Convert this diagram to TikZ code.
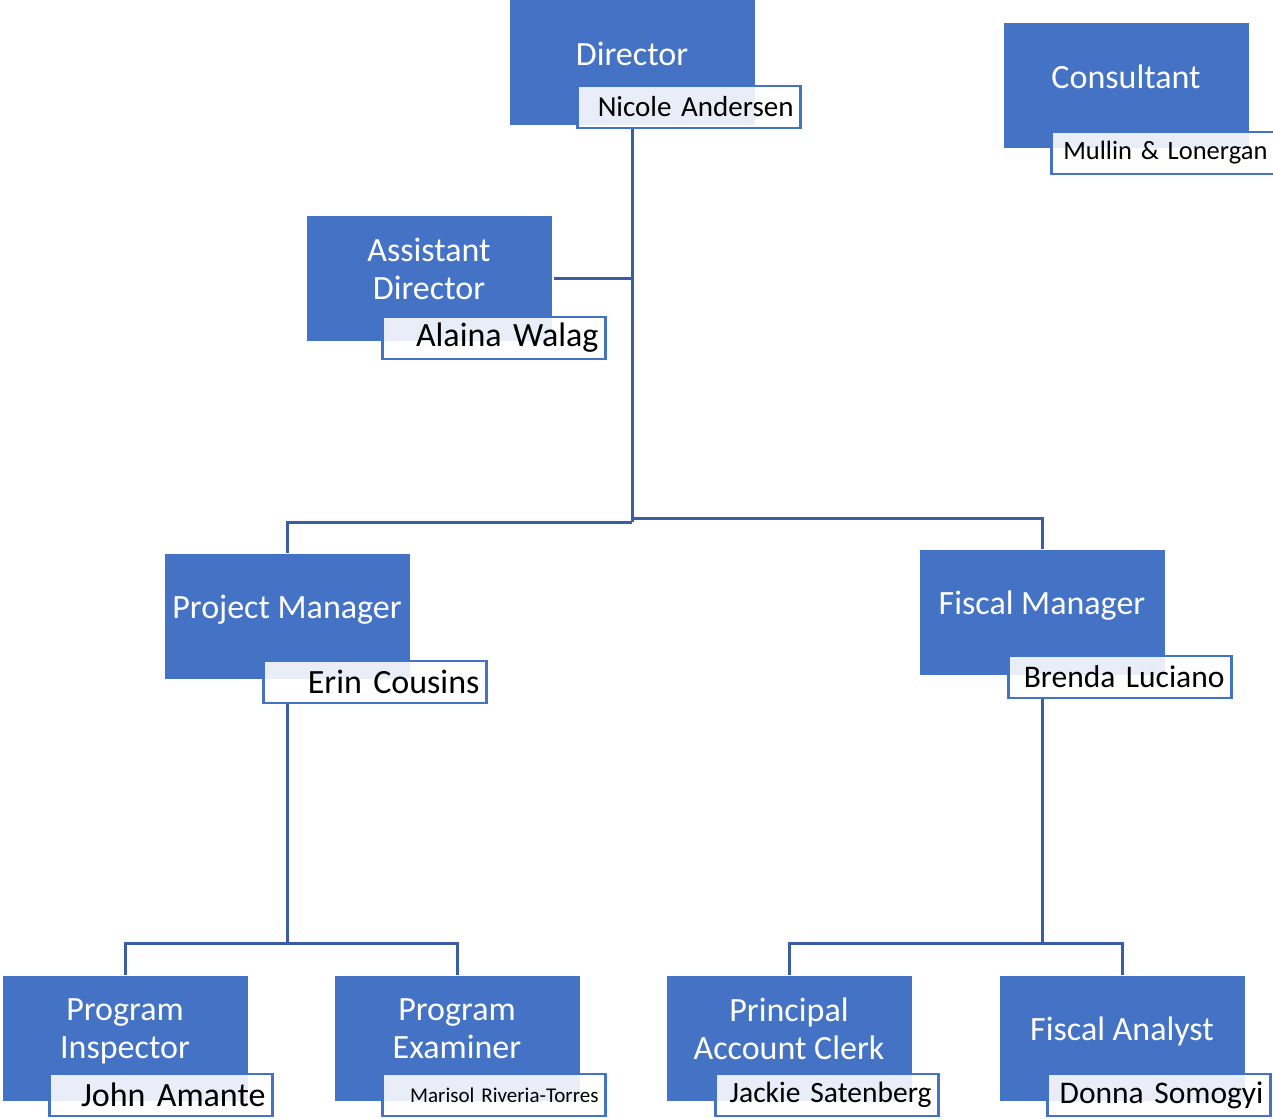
\documentclass[tikz,border=0pt]{standalone}
\usepackage{fontspec}
\setmainfont{Carlito}
\usepackage{tikz}
\definecolor{bleu}{HTML}{4472C4}
\definecolor{trait}{HTML}{3B5DA6}
\newcommand{\sz}[1]{\fontsize{#1}{38}\selectfont}

\begin{document}
\begin{tikzpicture}[x=1pt,y=-1pt,
   poste/.style={fill=bleu,minimum width=245pt,minimum height=125pt,inner sep=0pt,
      text=white,align=center,text depth=18pt,font=\sz{34}},
   nom/.style={draw=bleu,line width=2.2pt,fill=white,fill opacity=0.88,text opacity=1,
      text width=209pt,align=right,inner xsep=7pt,inner ysep=0pt,minimum height=42pt,font=\sz{34}},
   lien/.style={draw=trait,line width=3pt}]

  \useasboundingbox (0,0) rectangle (1273,1118);

  % postes
  \node[poste] (dir) at (632,63) {Director};
  \node[poste] (cons) at (1126,86) {Consultant};
  \node[poste] (ad) at (429,278) {Assistant\\Director};
  \node[poste] (pm) at (287,616) {Project Manager};
  \node[poste] (fm) at (1042,612) {Fiscal Manager};
  \node[poste] (pi) at (125,1038) {Program\\Inspector};
  \node[poste] (pe) at (457,1038) {Program\\Examiner};
  \node[poste] (pac) at (789,1038) {Principal\\Account Clerk};
  \node[poste] (fa) at (1122,1038) {Fiscal Analyst};

  % noms
  \node[nom,font=\sz{29}] (dirn) at (689,107) {Nicole Andersen};
  \node[nom,font=\sz{26.5}] (consn) at (1163,153) {Mullin \& Lonergan};
  \node[nom] (adn) at (494,338) {Alaina Walag};
  \node[nom] (pmn) at (375,682) {Erin Cousins};
  \node[nom,font=\sz{31.5}] (fmn) at (1120,677) {Brenda Luciano};
  \node[nom] (pin) at (161,1095) {John Amante};
  \node[nom,font=\sz{21}] (pen) at (494,1095) {Marisol Riveria-Torres};
  \node[nom,font=\sz{29.5}] (pacn) at (827,1095) {Jackie Satenberg};
  \node[nom,font=\sz{31.5}] (fan) at (1159,1095) {Donna Somogyi};

  \coordinate (jl) at (632,522);
  \coordinate (jr) at (632,518);
  \coordinate (jp) at (287,943);
  \coordinate (jf) at (1042,943);

  \draw[lien] (dirn.south -| dir.south) -- (jl);
  \draw[lien] ([xshift=2pt]ad.east) -- (ad.east -| dir.south);
  \draw[lien] (jl) -| (pm.north);
  \draw[lien] (jr) -| (fm.north);
  \draw[lien] (pmn.south -| pm.south) -- (jp);
  \draw[lien] (fmn.south -| fm.south) -- (jf);
  \foreach \to in {pi,pe} \draw[lien] (jp) -| (\to.north);
  \foreach \to in {pac,fa} \draw[lien] (jf) -| (\to.north);
\end{tikzpicture}
\end{document}
